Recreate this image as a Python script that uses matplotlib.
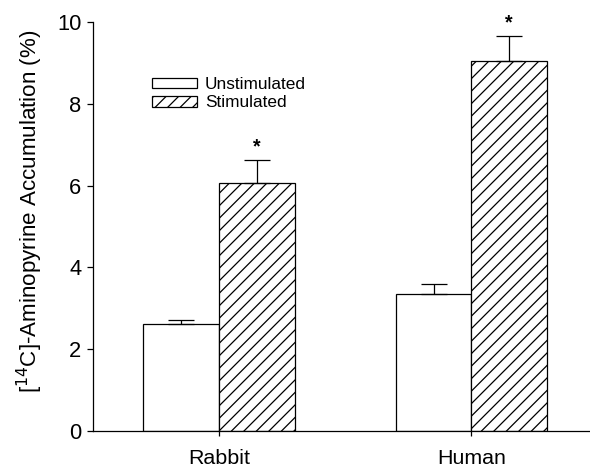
"""Aminopyrine accumulation bar chart, rabbit vs human glands."""

import matplotlib
matplotlib.use("Agg")
import matplotlib.pyplot as plt
import numpy as np

species = ["Rabbit", "Human"]
unstimulated = [2.62, 3.34]
unstimulated_err = [0.1, 0.25]
stimulated = [6.06, 9.05]
stimulated_err = [0.56, 0.6]
significant = [True, True]

plt.rcParams["font.family"] = ["Liberation Sans", "DejaVu Sans"]
plt.rcParams["hatch.linewidth"] = 1.2
plt.rcParams["hatch.color"] = "black"

DPI = 75
fig = plt.figure(figsize=(590 / DPI, 473 / DPI), dpi=DPI)
ax = fig.add_axes([0.1576, 0.0888, 0.8424, 0.8647])

x = np.arange(len(species))
width = 0.3

ax.bar(x - width / 2, unstimulated, width, color="white", edgecolor="black",
       linewidth=1.2, label="Unstimulated")
ax.bar(x + width / 2, stimulated, width, color="white", edgecolor="black",
       linewidth=1.2, hatch="//", label="Stimulated")

zeros = [0] * len(species)
ax.errorbar(x - width / 2, unstimulated, yerr=[zeros, unstimulated_err], fmt="none",
            ecolor="black", elinewidth=1.2, capsize=12.5, capthick=1.2)
ax.errorbar(x + width / 2, stimulated, yerr=[zeros, stimulated_err], fmt="none",
            ecolor="black", elinewidth=1.2, capsize=12.5, capthick=1.2)

for xi, val, err, sig in zip(x, stimulated, stimulated_err, significant):
    if sig:
        ax.text(xi + width / 2, val + err + 0.1, "*", ha="center", va="bottom",
                fontsize=19, fontweight="bold", clip_on=False)

ax.set_xlim(-0.5, 1.47)
ax.set_ylim(0, 10)
ax.set_yticks([0, 2, 4, 6, 8, 10])
ax.set_xticks(x)
ax.set_xticklabels(species)
ax.tick_params(axis="y", direction="out", length=6, width=1.2, labelsize=21, pad=5)
ax.tick_params(axis="x", direction="out", length=5, width=1.2, labelsize=20.5, pad=12)
ax.set_ylabel("[$^{14}$C]-Aminopyrine Accumulation (%)", fontsize=21.5)
ax.yaxis.set_label_coords(-0.097, 0.538)

for side in ("top", "right"):
    ax.spines[side].set_visible(False)
for side in ("left", "bottom"):
    ax.spines[side].set_linewidth(1.2)

ax.legend(loc="upper left", bbox_to_anchor=(0.119, 0.865), frameon=False,
          fontsize=16.5, handlelength=2.62, handleheight=0.57, handletextpad=0.46,
          labelspacing=0.18, borderpad=0, borderaxespad=0)

fig.savefig("out.png", dpi=DPI)
